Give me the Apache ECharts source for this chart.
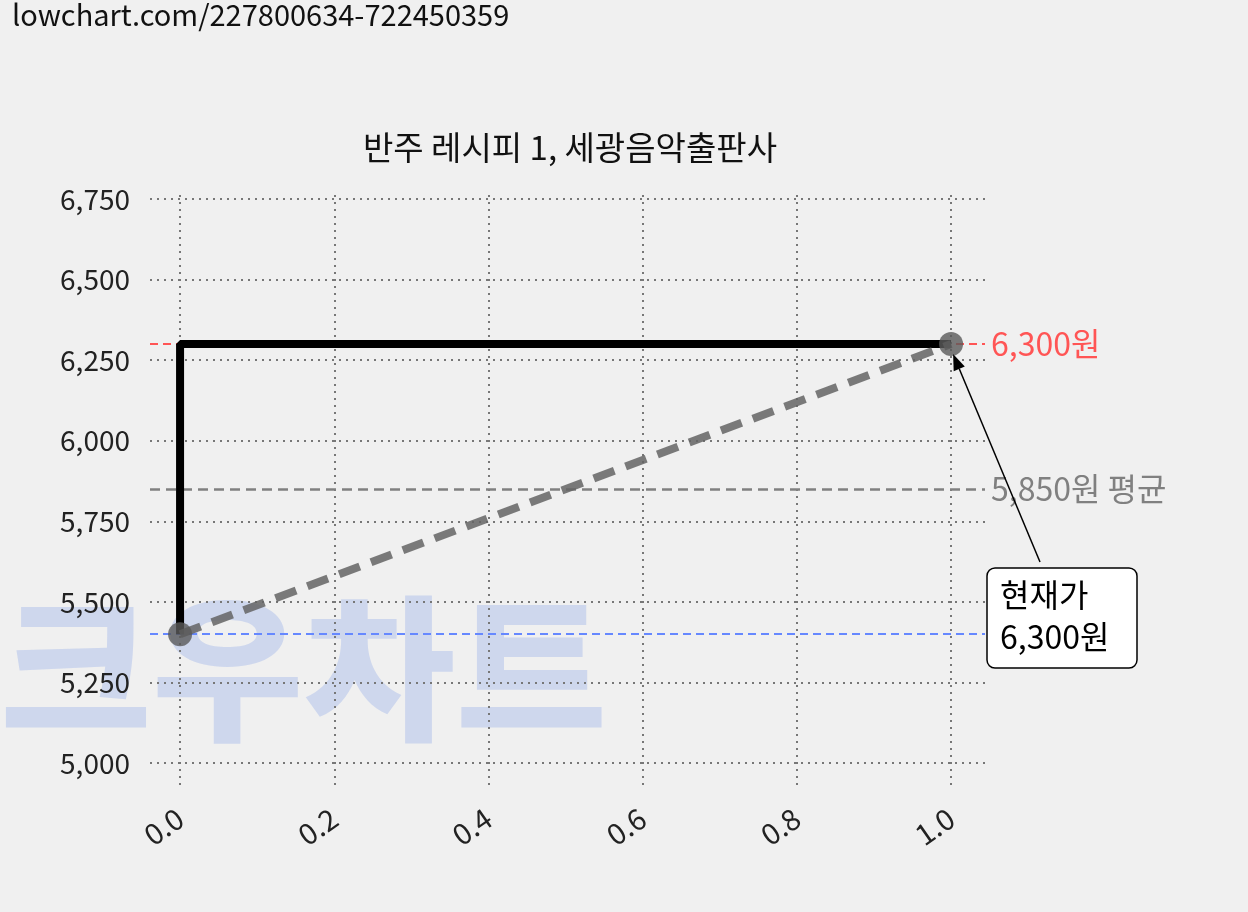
<!DOCTYPE html>
<html><head><meta charset="utf-8">
<script src="https://cdn.jsdelivr.net/npm/echarts@6/dist/echarts.min.js"></script>
<style>html,body{margin:0;background:#f0f0f0}#c{width:1248px;height:912px}</style>
</head><body><div id="c"></div>
<script>
const xTicks=[0,0.2,0.4,0.6,0.8,1.0];
const yTicks=[5000,5250,5500,5750,6000,6250,6500,6750];
const stepLine=[[0,5400],[0,6300],[1,6300]];
const trendLine=[[0,5400],[1,6300]];
const current=6300, average=5850, start=5400;
const F='"Noto Sans CJK KR","Noto Sans",sans-serif';
const chart=echarts.init(document.getElementById('c'));
chart.setOption({
  backgroundColor:'#f0f0f0',
  animation:false,
  title:{text:'반주 레시피 1, 세광음악출판사',left:565,top:126,textAlign:'center',textStyle:{fontFamily:F,fontSize:33,fontWeight:'normal',color:'#111'}},
  grid:{left:150,right:263,top:190,bottom:127},
  xAxis:{type:'value',min:-0.039,max:1.044,
    axisLine:{show:false},axisTick:{show:false},splitLine:{show:false},
    axisLabel:{customValues:xTicks,rotate:35,margin:30,fontFamily:F,fontSize:29,color:'#222',formatter:v=>v.toFixed(1)}},
  yAxis:{type:'value',min:4932,max:6778,
    axisLine:{show:false},axisTick:{show:false},splitLine:{show:false},
    axisLabel:{customValues:yTicks,margin:20,fontFamily:F,fontSize:28,color:'#222',formatter:v=>v.toLocaleString('en-US')}},
  series:[
    {type:'line',data:[],z:1,markLine:{symbol:'none',silent:true,label:{show:false},z:1,
      lineStyle:{type:[2,5],color:'#777',width:2},
      data:xTicks.map(v=>({xAxis:v})).concat(yTicks.map(v=>({yAxis:v})))}},
    {type:'line',data:stepLine,symbol:'none',lineStyle:{color:'#000',width:8},z:5},
    {type:'line',data:trendLine,symbol:'circle',symbolSize:24,
      itemStyle:{color:'rgba(90,90,90,0.8)'},
      lineStyle:{color:'rgba(100,100,100,0.85)',width:8,type:[22,12]},z:6,
      markLine:{symbol:'none',silent:true,z:2,
        data:[
          {yAxis:current,lineStyle:{color:'#ff5555',type:[8,5],width:2},label:{show:true,position:'end',formatter:'6,300원',color:'#ff5555',fontFamily:F,fontSize:32,distance:6}},
          {yAxis:average,lineStyle:{color:'#808080',type:[10,6],width:2.5},label:{show:true,position:'end',formatter:'5,850원 평균',color:'#808080',fontFamily:F,fontSize:32,distance:6}},
          {yAxis:start,lineStyle:{color:'#6688ff',type:[8,5],width:2},label:{show:false}}
        ]}}
  ]
});
const p=chart.convertToPixel({gridIndex:0},[1,current]);
const bx=987,by=568,bw=150,bh=100;
const tx=1040,ty=562;
const hx=p[0]+2,hy=p[1]+10;
const ang=Math.atan2(hy-ty,hx-tx);
const L=16,W=6;
const bxp=hx-L*Math.cos(ang),byp=hy-L*Math.sin(ang);
chart.setOption({graphic:[
  {type:'text',left:12,top:0,style:{text:'lowchart.com/227800634-722450359',font:'29px '+F,fill:'#111'}},
  {type:'text',x:0,y:590,scaleX:1.0,scaleY:0.95,z:0,style:{text:'크우차트',font:'900 165px '+F,fill:'rgba(120,150,230,0.28)'}},
  {type:'line',shape:{x1:tx,y1:ty,x2:bxp,y2:byp},style:{stroke:'#000',lineWidth:1.5},z:10},
  {type:'polygon',shape:{points:[[hx,hy],[bxp+W*Math.sin(ang),byp-W*Math.cos(ang)],[bxp-W*Math.sin(ang),byp+W*Math.cos(ang)]]},style:{fill:'#000'},z:10},
  {type:'rect',shape:{x:bx,y:by,width:bw,height:bh,r:8},style:{fill:'#fff',stroke:'#000',lineWidth:1.5},z:10},
  {type:'text',x:bx+13,y:by+6,z:11,style:{text:'현재가\n6,300원',font:'32px '+F,fill:'#000',lineHeight:42}}
]});
</script></body></html>
